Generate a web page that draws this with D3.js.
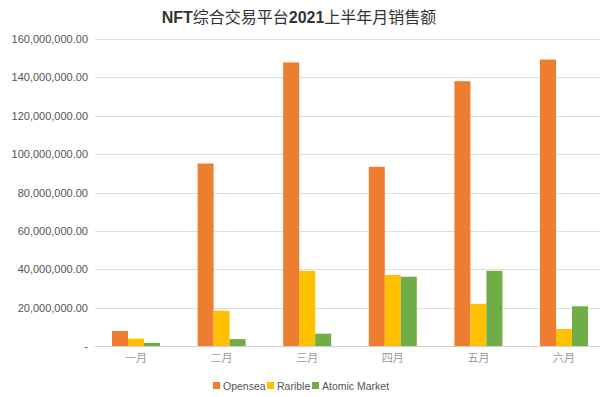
<!DOCTYPE html>
<html>
<head>
<meta charset="utf-8">
<script src="https://cdn.jsdelivr.net/npm/d3@7"></script>
<style>
  body { margin: 0; background: #fff; }
  text { font-family: "Liberation Sans", "Noto Sans CJK SC", sans-serif; }
</style>
</head>
<body>
<div id="chart"></div>
<script>
var months = ["一月", "二月", "三月", "四月", "五月", "六月"];
var seriesNames = ["Opensea", "Rarible", "Atomic Market"];
var opensea = [7800000, 95100000, 147800000, 93400000, 138000000, 149300000];
var rarible = [3800000, 18400000, 39200000, 37000000, 22000000, 8900000];
var atomic = [1600000, 3600000, 6400000, 36100000, 39200000, 20700000];
var yTicks = [0, 20000000, 40000000, 60000000, 80000000, 100000000, 120000000, 140000000, 160000000];
var colors = ["#ED7D31", "#FFC000", "#70AD47"];

var svgWidth = 600;
var svgHeight = 397;

var svg = d3.select("#chart")
  .append("svg")
  .attr("width", svgWidth)
  .attr("height", svgHeight);

// rows for grouped bars
var rows = months.map(function(m, i) {
  return { month: m, values: [opensea[i], rarible[i], atomic[i]] };
});

var x0 = d3.scaleBand()
  .domain(months)
  .range([93.2, 606.8]);

var x1 = d3.scaleBand()
  .domain(seriesNames)
  .range([0, x0.bandwidth()])
  .paddingOuter(1.175);

var y = d3.scaleLinear()
  .domain([0, 160000000])
  .range([346, 39]);

var fmt = d3.format(",.2f");

// gridlines
svg.append("g")
  .selectAll("line")
  .data(yTicks)
  .enter()
  .append("line")
  .attr("x1", 95)
  .attr("x2", 600)
  .attr("y1", function(d) { return Math.round(y(d)) + 0.5; })
  .attr("y2", function(d) { return Math.round(y(d)) + 0.5; })
  .attr("stroke", function(d) { return d === 0 ? "#cfcfcf" : "#dedede"; })
  .attr("stroke-width", 1);

// y axis labels
var leftAxis = d3.axisLeft(y)
  .tickValues(yTicks)
  .tickSize(0)
  .tickPadding(0)
  .tickFormat(function(d) { return d === 0 ? "-" : fmt(d); });

var yAxis = svg.append("g")
  .attr("transform", "translate(88,0)")
  .call(leftAxis);
yAxis.select(".domain").remove();
yAxis.selectAll("text")
  .attr("fill", "#555")
  .style("font-size", "11px");

// bars
var groups = svg.append("g")
  .selectAll("g")
  .data(rows)
  .enter()
  .append("g")
  .attr("transform", function(d) { return "translate(" + x0(d.month) + ",0)"; });

groups.selectAll("rect")
  .data(function(d) {
    return d.values.map(function(v, i) { return { name: seriesNames[i], value: v, idx: i }; });
  })
  .enter()
  .append("rect")
  .attr("x", function(d) { return x1(d.name); })
  .attr("width", x1.bandwidth())
  .attr("y", function(d) { return y(d.value); })
  .attr("height", function(d) { return y(0) - y(d.value); })
  .attr("fill", function(d) { return colors[d.idx]; });

// x axis labels
var bottomAxis = d3.axisBottom(x0).tickSize(0).tickPadding(0);
var xAxis = svg.append("g")
  .attr("transform", "translate(0,354)")
  .call(bottomAxis);
xAxis.select(".domain").remove();
xAxis.selectAll("text")
  .attr("fill", "#666")
  .attr("dy", "0.71em")
  .style("font-size", "11px")
  .style("font-family", "'Noto Sans CJK SC', sans-serif")
  .style("font-weight", "300");

// title
var title = svg.append("text")
  .attr("x", 299)
  .attr("y", 23)
  .attr("text-anchor", "middle")
  .attr("fill", "#333")
  .style("font-size", "16px");
title.append("tspan").style("font-weight", "bold").text("NFT");
title.append("tspan").style("font-family", "'Noto Sans CJK SC', sans-serif").text("综合交易平台");
title.append("tspan").style("font-weight", "bold").text("2021");
title.append("tspan").style("font-family", "'Noto Sans CJK SC', sans-serif").text("上半年月销售额");

// legend
var legendX = [213, 267, 312];
var legend = svg.append("g")
  .selectAll("g")
  .data(seriesNames)
  .enter()
  .append("g")
  .attr("transform", function(d, i) { return "translate(" + legendX[i] + ",382)"; });

legend.append("rect")
  .attr("width", 7)
  .attr("height", 7)
  .attr("fill", function(d, i) { return colors[i]; });

legend.append("text")
  .attr("x", 10)
  .attr("y", 7.5)
  .attr("fill", "#555")
  .style("font-size", "10.5px")
  .text(function(d) { return d; });
</script>
</body>
</html>
